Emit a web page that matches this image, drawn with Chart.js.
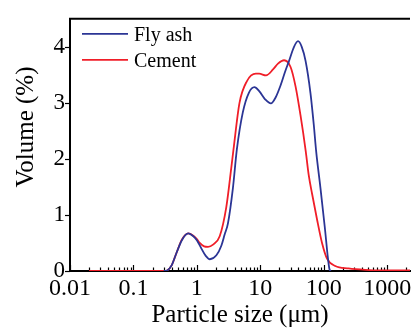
<!DOCTYPE html>
<html><head><meta charset="utf-8">
<script src="https://cdn.jsdelivr.net/npm/chart.js@4.4.1/dist/chart.umd.min.js"></script>
<style>html,body{margin:0;padding:0;background:#fff}#wrap{width:413px;height:330px}</style>
</head><body><div id="wrap"><canvas id="c" width="413" height="330"></canvas></div>
<script>
const seriesNames = ['Fly ash', 'Cement'];
const flyAshSize   = [0.3, 0.34, 0.4, 0.48, 0.58, 0.73, 0.88, 1.0, 1.18, 1.38, 1.6, 2.03, 2.43, 2.74, 3.09, 3.7, 4.27, 5.3, 6.6, 8.1, 9.6, 12, 14.7, 17.5, 21, 24.5, 28.4, 34, 39.3, 45, 51.7, 61.7, 69.8, 75.9, 88.8, 103.7, 116.7, 124, 130];
const flyAshVolume = [0, 0.01, 0.1, 0.33, 0.55, 0.67, 0.62, 0.55, 0.4, 0.27, 0.21, 0.28, 0.45, 0.65, 0.85, 1.48, 2.17, 2.83, 3.18, 3.28, 3.21, 3.06, 2.99, 3.1, 3.32, 3.55, 3.75, 4.0, 4.1, 4.0, 3.75, 3.18, 2.6, 2.14, 1.48, 0.79, 0.22, 0.02, 0];
const cementSize   = [0.02, 0.3, 0.34, 0.4, 0.48, 0.58, 0.73, 0.88, 1.0, 1.11, 1.3, 1.5, 1.8, 2.29, 2.91, 3.48, 3.78, 4.7, 6.1, 8.5, 9.6, 12.3, 16, 19, 23.7, 30, 36, 43, 52, 58, 65.7, 78.7, 94, 112.7, 152, 246, 450, 800, 2290];
const cementVolume = [0, 0, 0.01, 0.1, 0.33, 0.56, 0.67, 0.63, 0.57, 0.5, 0.44, 0.43, 0.47, 0.62, 1.14, 1.83, 2.17, 3.0, 3.38, 3.52, 3.52, 3.49, 3.6, 3.7, 3.76, 3.64, 3.29, 2.78, 2.14, 1.71, 1.37, 0.91, 0.5, 0.22, 0.09, 0.046, 0.02, 0.01, 0.01];
const xTickLabels = ['0.01', '0.1', '1', '10', '100', '1000'];
const yTickLabels = ['0', '1', '2', '3', '4'];
const axisTitles = ['Particle size (\u03bcm)', 'Volume (%)'];

const FONT = "'Liberation Serif', 'Times New Roman', serif";
const colors = ['#2b3595', '#f01e28'];

function toPoints(xs, ys) { return xs.map((x, i) => ({x: x, y: ys[i]})); }

const extras = {
  id: 'extras',
  beforeDatasetsDraw(chart) {
    const ctx = chart.ctx, a = chart.chartArea;
    const xs = chart.scales.x, ys = chart.scales.y;
    ctx.save();
    ctx.strokeStyle = '#000';
    ctx.lineWidth = 1.2;
    xs.ticks.forEach(t => {
      const v = t.value;
      if (v < xs.min || v > xs.max) return;
      const e = Math.floor(Math.log10(v) + 1e-9);
      const m = v / Math.pow(10, e);
      if (Math.abs(m - Math.round(m)) > 1e-6) return;
      const px = Math.round(xs.getPixelForValue(v)) + 0.5;
      const len = Math.round(m) === 1 ? 6 : 3.5;
      ctx.beginPath(); ctx.moveTo(px, a.bottom); ctx.lineTo(px, a.bottom - len); ctx.stroke();
    });
    ys.ticks.forEach(t => {
      const py = Math.round(ys.getPixelForValue(t.value)) + 0.5;
      const len = Number.isInteger(t.value) ? 5 : 3;
      ctx.beginPath(); ctx.moveTo(a.left, py); ctx.lineTo(a.left - len, py); ctx.stroke();
    });
    ctx.lineWidth = 2;
    ctx.beginPath(); ctx.moveTo(a.left - 1, a.top); ctx.lineTo(a.right, a.top); ctx.stroke();
    ctx.restore();
  },
  afterDraw(chart) {
    const ctx = chart.ctx, a = chart.chartArea;
    ctx.save();
    chart.data.datasets.forEach((ds, i) => {
      const y = a.top + 15 + i * 26;
      ctx.strokeStyle = ds.borderColor; ctx.lineWidth = 1.8;
      ctx.beginPath(); ctx.moveTo(a.left + 12, y); ctx.lineTo(a.left + 58, y); ctx.stroke();
      ctx.fillStyle = '#000'; ctx.font = '20px ' + FONT;
      ctx.textAlign = 'left'; ctx.textBaseline = 'alphabetic';
      ctx.fillText(ds.label, a.left + 64, y + 7.5);
    });
    ctx.translate(33, 127);
    ctx.rotate(-Math.PI / 2);
    ctx.fillStyle = '#000'; ctx.font = '25px ' + FONT;
    ctx.textAlign = 'center'; ctx.textBaseline = 'alphabetic';
    ctx.fillText(axisTitles[1], 0, 0);
    ctx.restore();
  }
};

new Chart(document.getElementById('c'), {
  type: 'line',
  data: {
    datasets: [
      {label: seriesNames[0], data: toPoints(flyAshSize, flyAshVolume), borderColor: colors[0], borderWidth: 1.8, pointRadius: 0, fill: false, cubicInterpolationMode: 'monotone'},
      {label: seriesNames[1], data: toPoints(cementSize, cementVolume), borderColor: colors[1], borderWidth: 1.8, pointRadius: 0, fill: false, cubicInterpolationMode: 'monotone'}
    ]
  },
  options: {
    responsive: false,
    animation: false,
    devicePixelRatio: 1,
    layout: {padding: {top: 10, right: 0, left: 0, bottom: 0}},
    plugins: {legend: {display: false}, tooltip: {enabled: false}},
    scales: {
      x: {
        type: 'logarithmic', min: 0.01, max: 2290,
        grid: {display: true, drawOnChartArea: false, drawTicks: false},
        border: {display: true, color: '#000', width: 2},
        ticks: {
          autoSkip: false, maxRotation: 0, minRotation: 0, padding: 3,
          color: '#000', font: {family: FONT, size: 24},
          callback: (v) => {
            const l = Math.log10(v);
            if (Math.abs(l - Math.round(l)) > 1e-6) return '';
            const idx = Math.round(l) + 2;
            return xTickLabels[idx] !== undefined ? xTickLabels[idx] : '';
          }
        },
        title: {display: true, text: axisTitles[0], color: '#000', font: {family: FONT, size: 25}, padding: {top: 0, bottom: 0}},
        afterFit: (s) => { s.height = 59; }
      },
      y: {
        min: 0, max: 4.5,
        grid: {display: true, drawOnChartArea: false, drawTicks: false},
        border: {display: true, color: '#000', width: 2},
        ticks: {
          stepSize: 0.5, padding: 5, color: '#000', font: {family: FONT, size: 23},
          callback: (v) => Number.isInteger(v) ? yTickLabels[v] : ''
        },
        afterFit: (s) => { s.width = 70; }
      }
    }
  },
  plugins: [extras]
});
</script>
</body></html>
